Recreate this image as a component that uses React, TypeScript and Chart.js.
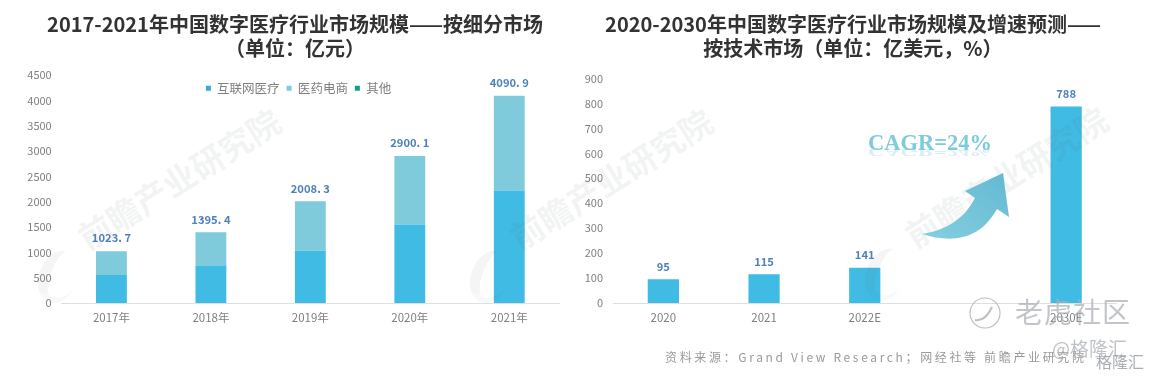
import React, { useEffect, useRef } from "react";
import { Chart, registerables } from "chart.js";

Chart.register(...registerables);

const leftCategories = ["2017年", "2018年", "2019年", "2020年", "2021年"];
const internetCare = [553, 730, 1030, 1550, 2220];
const pharmaEcommerce = [470.7, 665.4, 978.3, 1350.1, 1870.9];
const others = [0, 0, 0, 0, 0];
const leftTotals = [1023.7, 1395.4, 2008.3, 2900.1, 4090.9];

const rightCategories = ["2020", "2021", "2022E", "", "2030E"];
const rightValues = [95, 115, 141, null, 788];

const FONT = '"Noto Sans CJK SC", "Noto Sans", sans-serif';
const GREY = "#808080";
const LABEL_BLUE = "#4f81bd";

function topLabels(values: (number | null)[], format: (v: number) => string) {
  return {
    id: "topLabels",
    afterDatasetsDraw(chart: any) {
      const { ctx, scales } = chart;
      ctx.save();
      ctx.font = `700 11.2px ${FONT}`;
      ctx.fillStyle = LABEL_BLUE;
      ctx.textAlign = "center";
      ctx.textBaseline = "middle";
      values.forEach((v, i) => {
        if (v == null) return;
        ctx.fillText(format(v), scales.x.getPixelForValue(i), scales.y.getPixelForValue(v) - 13);
      });
      ctx.restore();
    },
  };
}

// The legend sits inside the plot area, over the bars' empty space, so it takes no layout height.
const legendInside = {
  id: "legendInside",
  beforeLayout(chart: any) {
    const legend = chart.legend;
    if (legend && !legend.__patched) {
      const fit = legend.fit;
      legend.fit = function () {
        fit.call(this);
        this.height = 0;
      };
      legend.__patched = true;
    }
  },
  afterLayout(chart: any) {
    if (chart.legend) {
      chart.legend.left += 19;
      chart.legend.right += 19;
      chart.legend.bottom = chart.legend.top + 30;
      chart.legend.height = 30;
    }
  },
};

function axes(maxY: number, stepY: number, yWidth: number, tickPad: number, stacked: boolean) {
  return {
    x: {
      stacked,
      grid: { display: false, drawTicks: false },
      border: { display: true, color: "#dcdfe4", width: 1 },
      ticks: { color: GREY, font: { family: FONT, size: 11.5 }, padding: 8, maxRotation: 0, autoSkip: false },
      afterFit(s: any) { s.height = 25; },
    },
    y: {
      stacked,
      min: 0,
      max: maxY,
      grid: { display: false, drawTicks: false },
      border: { display: false },
      ticks: { stepSize: stepY, color: GREY, font: { family: FONT, size: 11 }, padding: tickPad, callback: (v: any) => String(v) },
      afterFit(s: any) { s.width = yWidth; },
    },
  };
}

function Wm({ x, y }: { x: number; y: number }) {
  return (
    <div style={{ position: "absolute", left: x, top: y, width: 300, height: 60, transform: "translate(-50%,-50%) rotate(-32deg)", textAlign: "center", whiteSpace: "nowrap", color: "rgba(110,115,120,0.085)", fontFamily: FONT, fontWeight: 700, fontSize: 33, lineHeight: "44px" }}>
      前瞻产业研究院
    </div>
  );
}

function LogoBlob({ x, y }: { x: number; y: number }) {
  return (
    <div style={{ position: "absolute", left: x, top: y, width: 38, height: 54, borderRadius: "50%", borderLeft: "11px solid rgba(110,115,120,0.07)", borderBottom: "6px solid rgba(110,115,120,0.05)", transform: "translate(-50%,-50%) rotate(20deg)", boxSizing: "border-box" }} />
  );
}

export default function App() {
  const leftRef = useRef<HTMLCanvasElement>(null);
  const rightRef = useRef<HTMLCanvasElement>(null);

  useEffect(() => {
    const left = new Chart(leftRef.current!, {
      type: "bar",
      data: {
        labels: leftCategories,
        datasets: [
          { label: "互联网医疗", data: internetCare, backgroundColor: "#3fbbe4", barPercentage: 0.31, categoryPercentage: 1 },
          { label: "医药电商", data: pharmaEcommerce, backgroundColor: "#7fcbdc", barPercentage: 0.31, categoryPercentage: 1 },
          { label: "其他", data: others, backgroundColor: "#14a08e", barPercentage: 0.31, categoryPercentage: 1 },
        ],
      },
      options: {
        animation: false,
        responsive: false,
        layout: { padding: { left: 0, right: 17, top: 75, bottom: 50 } },
        plugins: {
          tooltip: { enabled: false },
          title: { display: false },
          legend: {
            display: true,
            position: "top",
            align: "center",
            labels: {
              generateLabels: (chart: any) => {
                const colours = ["#3aa8d8", "#7fcbdc", "#14a08e"];
                return chart.data.datasets.map((d: any, i: number) => ({
                  text: d.label,
                  fillStyle: colours[i],
                  strokeStyle: colours[i],
                  lineWidth: 0,
                  hidden: false,
                  datasetIndex: i,
                  pointStyle: "rect",
                  fontColor: GREY,
                }));
              },
              usePointStyle: true,
              pointStyle: "rect",
              boxWidth: 5,
              boxHeight: 5,
              padding: 7,
              color: GREY,
              font: { family: FONT, size: 12.5 },
            },
          },
        },
        scales: axes(4500, 500, 61.7, 10, true) as any,
      },
      plugins: [legendInside, topLabels(leftTotals, (v) => v.toFixed(1).replace(".", ". "))],
    });

    const right = new Chart(rightRef.current!, {
      type: "bar",
      data: {
        labels: rightCategories,
        datasets: [
          { label: "市场规模", data: rightValues, backgroundColor: "#3fbbe4", barPercentage: 0.31, categoryPercentage: 1 },
        ],
      },
      options: {
        animation: false,
        responsive: false,
        layout: { padding: { left: 0, right: 35.5, top: 78.5, bottom: 50 } },
        plugins: { tooltip: { enabled: false }, legend: { display: false }, title: { display: false } },
        scales: axes(900, 100, 37, 10, false) as any,
      },
      plugins: [topLabels(rightValues, (v) => String(v))],
    });

    return () => {
      left.destroy();
      right.destroy();
    };
  }, []);

  const titleStyle: React.CSSProperties = {
    position: "absolute",
    textAlign: "center",
    fontFamily: FONT,
    fontWeight: 700,
    fontSize: 20,
    lineHeight: "24px",
    color: "#333",
    whiteSpace: "nowrap",
  };

  const cagrStyle: React.CSSProperties = {
    position: "absolute",
    left: 868,
    top: 128,
    fontFamily: '"Liberation Serif", serif',
    fontWeight: 700,
    fontSize: 22.5,
    lineHeight: "30px",
    color: "#7fcadb",
    whiteSpace: "nowrap",
  };

  return (
    <div style={{ position: "fixed", left: 0, top: 0, width: 1152, height: 378, background: "#fff", overflow: "hidden", filter: "blur(0.55px)" }}>
      <canvas ref={leftRef} width={576} height={378} style={{ position: "absolute", left: 0, top: 0 }} />
      <canvas ref={rightRef} width={576} height={378} style={{ position: "absolute", left: 576, top: 0 }} />

      <div style={{ ...titleStyle, left: 0, width: 590, top: 12 }}>
        2017-2021年中国数字医疗行业市场规模——按细分市场
        <br />
        （单位：亿元）
      </div>
      <div style={{ ...titleStyle, left: 576, width: 554, top: 12 }}>
        2020-2030年中国数字医疗行业市场规模及增速预测——
        <br />
        按技术市场（单位：亿美元，%）
      </div>

      <Wm x={183} y={185} />
      <Wm x={615} y={185} />
      <Wm x={1010} y={183} />
      <LogoBlob x={58} y={277} />
      <LogoBlob x={490} y={277} />
      <LogoBlob x={885} y={275} />

      <svg width={1152} height={378} style={{ position: "absolute", left: 0, top: 0 }}>
        <defs>
          <linearGradient id="arrowFill" x1="0" y1="1" x2="1" y2="0">
            <stop offset="0" stopColor="#86cfe0" />
            <stop offset="1" stopColor="#62b9d2" />
          </linearGradient>
        </defs>
        <path d="M1003 173 L965 191 L975 198 Q960 228 922 234 Q960 246 983 227 Q992 218 997 209 L1009 217 Z" fill="url(#arrowFill)" />
        <circle cx={985} cy={313} r={15} fill="none" stroke="rgba(165,170,175,0.75)" strokeWidth={1.2} />
        <path d="M975 320 Q985 322 992 307" fill="none" stroke="rgba(165,170,175,0.75)" strokeWidth={2} />
      </svg>

      <div style={cagrStyle}>CAGR=24%</div>
      <div style={{ ...cagrStyle, top: 137, opacity: 0.3, transform: "scaleY(-0.6)" }} aria-hidden="true">CAGR=24%</div>

      <div style={{ position: "absolute", left: 665, top: 349, fontFamily: FONT, fontSize: 12, lineHeight: "16px", color: "#9a9a9a", letterSpacing: 2.65, whiteSpace: "nowrap" }}>
        资料来源：Grand View Research；网经社等 前瞻产业研究院
      </div>

      <div style={{ position: "absolute", left: 1015, top: 293, fontFamily: FONT, fontSize: 28, lineHeight: "36px", color: "rgba(170,175,182,0.72)", letterSpacing: 1, whiteSpace: "nowrap" }}>
        老虎社区
      </div>
      <div style={{ position: "absolute", left: 1052, top: 336, fontFamily: FONT, fontSize: 19, lineHeight: "24px", color: "rgba(165,170,175,0.7)", whiteSpace: "nowrap" }}>
        @格隆汇
      </div>
      <div style={{ position: "absolute", left: 1096, top: 351, fontFamily: FONT, fontSize: 16, lineHeight: "20px", color: "rgba(150,155,160,0.8)", whiteSpace: "nowrap" }}>
        格隆汇
      </div>
    </div>
  );
}
